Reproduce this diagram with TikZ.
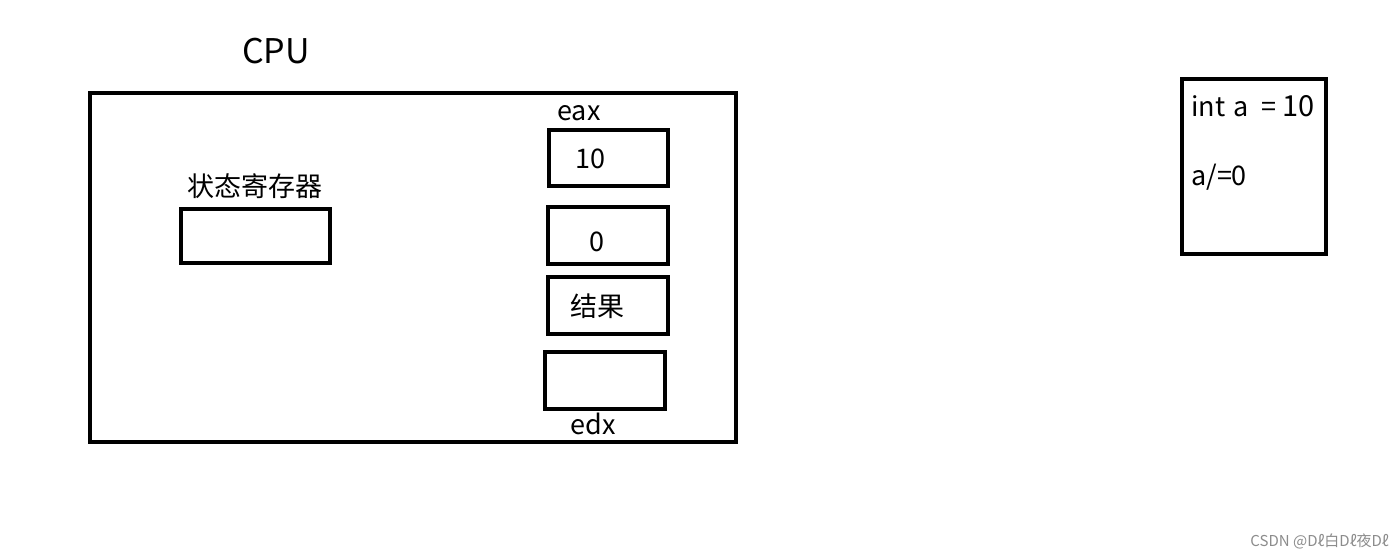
\documentclass[tikz,border=0pt]{standalone}
\usepackage{fontspec}
\setmainfont{Noto Sans CJK SC}
\begin{document}
\begin{tikzpicture}[x=1pt,y=-1pt,
  lbl/.style={inner sep=0pt,font=\fontsize{27}{30}\selectfont},
  boxline/.style={draw=black,line width=3.2pt}]
\useasboundingbox[fill=white] (0,0) rectangle (1400,557);
\node[lbl,font=\fontsize{34}{38}\selectfont] (cpu) at (276,51) {CPU};
\draw[boxline] (90,93) rectangle (736,442);
\node[lbl] (stl) at (255,186) {状态寄存器};
\draw[boxline] (181,209) rectangle (330,263);
\node[lbl] (eax) at (579,113) {eax};
\draw[boxline] (549,130) rectangle (668,186);
\node[lbl] (t10) at (590,159) {10};
\draw[boxline] (548,207) rectangle (668,264);
\node[lbl] (t0) at (597,242) {0};
\draw[boxline] (548,277) rectangle (668,334);
\node[lbl] (tres) at (597,306) {结果};
\draw[boxline] (545,352) rectangle (665,409);
\node[lbl] (edx) at (593,424) {edx};
\draw[boxline] (1182,79) rectangle (1326,254);
\node[lbl,anchor=west] (code1) at (1191,106) {int\hspace{2pt} a\hspace{13pt}=\hspace{6pt}\fontsize{29}{30}\selectfont 10};
\node[lbl,anchor=west] (code2) at (1191,177) {a/=0};
\node[inner sep=0pt,anchor=east,text=black!45,font=\fontsize{15}{17}\selectfont] (wm) at (1389,541) {CSDN @Dℓ白Dℓ夜Dℓ};
\end{tikzpicture}
\end{document}
